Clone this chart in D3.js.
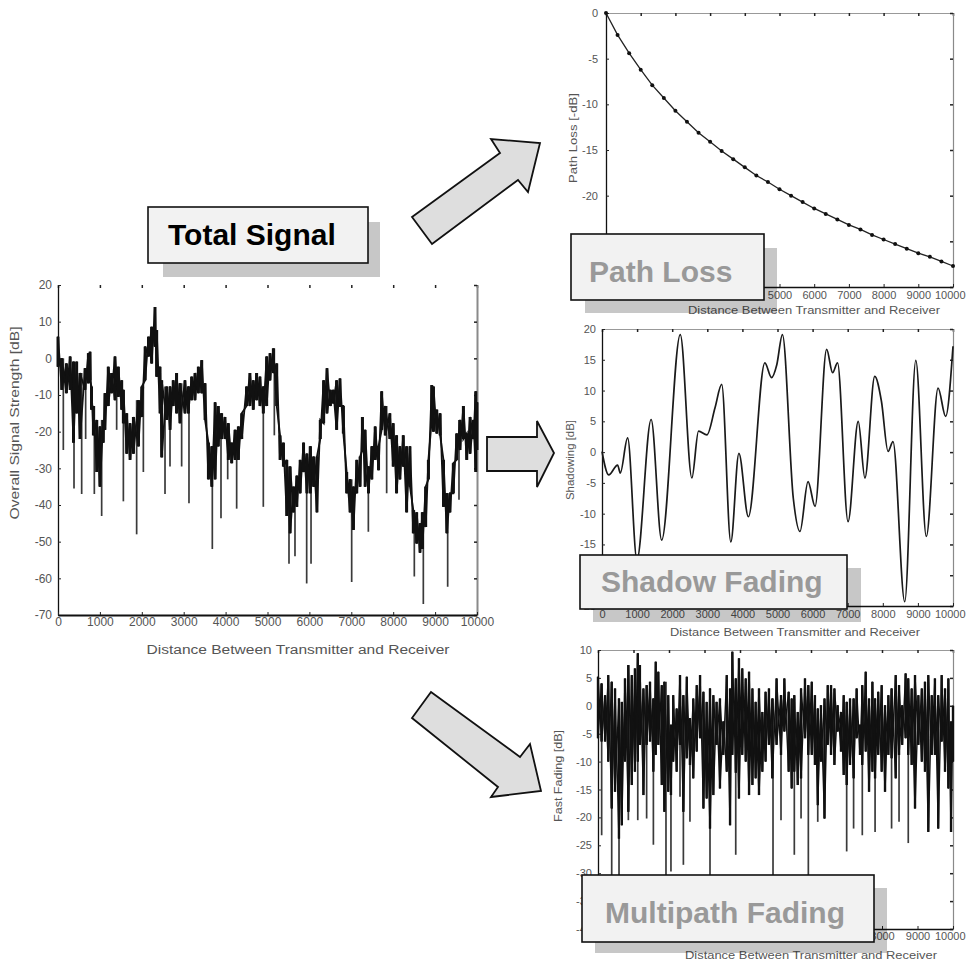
<!DOCTYPE html>
<html><head><meta charset="utf-8">
<script src="https://cdn.jsdelivr.net/npm/d3@7"></script>
<style>
body{margin:0;background:#fff;}
svg{display:block;}
text{font-family:"Liberation Sans",Arial,Helvetica,sans-serif;}
</style>
</head><body>
<svg id="c" width="966" height="964"></svg>
<script>
// ---------------- DATA ----------------
const distTicks = [0,1000,2000,3000,4000,5000,6000,7000,8000,9000,10000];

// Total signal (upper / lower edge of the dense trace, read per distance)
const tsDist = [0,90,200,290,370,445,525,645,725,765,
  800,845,925,1000,1080,1120,1200,1280,1360,1440,
  1520,1560,1640,1720,1800,1920,2000,2080,2160,2235,
  2315,2355,2435,2475,2595,2675,2750,2830,2910,3030,
  3110,3190,3270,3350,3430,3510,3590,3670,3750,3825,
  3905,3985,4065,4145,4225,4305,4385,4500,4580,4660,
  4740,4820,4900,4980,5060,5140,5220,5300,5380,5460,
  5540,5620,5700,5780,5860,5940,6020,6100,6180,6260,
  6340,6420,6500,6570,6650,6730,6810,6890,6970,7050,
  7130,7210,7265,7330,7410,7490,7570,7650,7725,7810,
  7920,8000,8080,8160,8240,8320,8400,8480,8560,8640,
  8695,8775,8840,8920,8960,9040,9120,9200,9280,9355,
  9435,9515,9595,9675,9755,9835,9915,9970,10000];
const tsHigh = [5.9,0,-1.4,0.5,-0.9,-0.9,-4,-2.7,1.4,1.8,
  -7.7,-13,-16.8,-18.6,-16.8,-9.5,-2.3,-4,0.5,-2.3,
  -6,-8.6,-15,-17.7,-16,-11.4,-7.7,3.2,5.9,8.6,
  14,7.7,-2.3,-6,-7.7,-7.7,-6,-4,-6.8,-6,
  -7.7,-5,-4,-2.3,-0.5,-6.8,-23,-24,-12,-13,
  -15,-16,-17.7,-23,-19.5,-18.6,-15,-7.7,-4,-6,
  -4,-5,-7.7,0.5,1.4,2.7,-1.4,-21,-23,-27.7,
  -29.5,-35,-32,-27.7,-23,-26,-24,-26.8,-26.8,-16.8,
  -6,-2.7,-8.6,-8.6,-6,-5.5,-13,-31,-33,-35,
  -27.7,-26.8,-16,-19.5,-29.5,-24,-18.6,-24,-9,-13,
  -15,-17.7,-21,-24,-21,-24,-24,-41.4,-42,-45,
  -42,-35,-27.7,-7.3,-7.7,-14,-15,-27.7,-36.8,-36.8,
  -28.6,-20.5,-16.8,-13,-20.5,-16,-16.8,-9,-12];
const tsLow = [-2.3,-8.6,-9.5,-8.6,-23,-15,-22,-8.6,-6.8,-6,
  -14,-21,-31,-35,-23,-19.5,-13,-9.5,-11.4,-10.5,
  -14,-17.7,-26,-27.7,-26,-24,-16,-6,0.5,-1.4,
  3.2,-5,-15,-27,-16.8,-19.5,-13,-15,-17.7,-15,
  -15,-11.4,-11.4,-9.5,-9.5,-16.8,-33,-35,-33,-24,
  -22,-22,-27.7,-28.6,-27.7,-27.7,-22,-13,-13,-14,
  -11.4,-13,-15,-13,-6,-4,-13,-27.7,-29.5,-43,
  -47.7,-42,-40.5,-36.8,-31,-36.8,-36.8,-35,-42,-22,
  -17.7,-15,-13,-12.3,-19.5,-13,-20.5,-36.8,-42,-46.8,
  -36.8,-35,-25,-35,-36.8,-33,-27.7,-30.5,-19.5,-21,
  -22,-29.5,-36.8,-33,-29.5,-42,-35,-47.7,-50.5,-53,
  -52,-46,-33,-16.8,-20,-20.5,-21,-40.5,-47.7,-42,
  -36.8,-27.7,-25,-22,-27.7,-26,-22,-31,-25];
const tsSpikeDist = [127,382,565,660,867,1042,1400,1560,1877,2037,2554,2673,2951,3126,3683,3890,4050,4264,4900,5163,5513,5656,5935,6039,7009,7407,7844,8504,8719,9300,9570];
const tsSpikeVal = [-25,-35.5,-37,-22,-37,-43,-19.5,-39,-48,-31,-37,-29.5,-29.5,-39.5,-52,-43.6,-33,-41,-40.5,-21,-56,-54,-61.4,-56,-61,-47.3,-36.8,-59.5,-67,-62.3,-38.6];
const tsYTicks = [20,10,0,-10,-20,-30,-40,-50,-60,-70];

// Path loss
const plDist = [0,333,667,1000,1333,1667,2000,2333,2667,3000,3333,3667,4000,4333,4667,5000,5333,5667,6000,6333,6667,7000,7333,7667,8000,8333,8667,9000,9333,9667,10000];
const plVal = [0,-2.4,-4.4,-6.2,-7.9,-9.3,-10.7,-11.9,-13.1,-14.1,-15.1,-16.0,-16.9,-17.8,-18.5,-19.3,-20.0,-20.7,-21.4,-22.0,-22.6,-23.2,-23.7,-24.3,-24.8,-25.3,-25.8,-26.3,-26.7,-27.2,-27.7];
const plYTicks = [0,-5,-10,-15,-20,-25,-30];
const plYLabelled = [0,-5,-10,-15,-20];

// Shadow fading
const sfDist = [0,190,445,520,730,995,1400,1700,2230,2560,2750,2990,3220,3410,3670,3900,4170,4640,4830,4980,5140,5450,5640,5870,6070,6400,6570,6710,7010,7300,7490,7770,7960,8150,8290,8625,8940,9240,9575,9790,10000];
const sfVal = [0.1,-3.7,-2.1,-3.4,2.3,-17.5,5.3,-14.3,19.1,-4.2,3.4,2.8,7.2,11.0,-14.6,-0.2,-10.5,14.5,12.1,14.2,19.1,-7.5,-12.9,-4.8,-8.8,16.7,12.9,14.5,-11.3,5.0,-4.2,12.3,8.3,0.1,1.7,-24.3,14.9,-13.7,10.4,5.8,17.2];
const sfYTicks = [20,15,10,5,0,-5,-10,-15,-20,-25];

// Multipath (fast) fading
const mpDist = [0,100,200,290,385,480,590,670,760,855,
  950,1040,1120,1180,1280,1370,1465,1560,1625,1700,
  1795,1870,1980,2055,2120,2215,2310,2405,2500,2590,
  2685,2780,2875,2970,3060,3155,3250,3340,3435,3530,
  3625,3720,3785,3880,3970,4065,4160,4255,4350,4440,
  4535,4630,4720,4815,4910,5030,5155,5250,5370,5455,
  5530,5625,5720,5830,5925,6020,6110,6190,6280,6380,
  6470,6565,6660,6750,6845,6920,7005,7100,7200,7285,
  7380,7445,7540,7635,7730,7805,7895,7990,8085,8180,
  8270,8385,8480,8570,8665,8740,8835,8930,9025,9120,
  9210,9305,9400,9490,9585,9680,9775,9870,9945,10000];
const mpHigh = [5.2,4.0,1.9,5.5,4.3,3.1,1.3,0.7,4.9,7.3,
  5.5,6.7,9.4,7.3,3.1,3.7,4.3,1.3,7.9,6.1,
  3.7,4.3,1.9,-3.4,1.9,-0.5,5.5,1.9,5.2,-2.2,
  1.3,3.7,5.5,2.5,0.7,3.1,1.9,0.7,1.3,-2.8,
  5.5,3.1,9.7,4.9,8.5,6.7,4.9,6.1,3.1,0.7,
  3.1,-1.1,2.5,3.1,1.3,4.9,1.9,4.9,2.5,1.3,
  1.9,-1.1,3.1,4.9,3.7,4.3,1.9,-0.5,0.1,1.3,
  3.7,3.7,3.1,0.1,-1.1,1.9,0.7,1.3,1.3,3.1,
  -3.4,3.7,6.1,1.3,4.3,1.3,2.5,3.7,0.1,1.9,
  3.1,5.5,3.7,0.1,5.8,4.9,3.1,5.5,1.9,3.1,
  4.3,5.5,1.9,4.9,1.9,5.5,3.1,4.9,-2.8,0];
const mpLow = [-5.8,-6.4,-6.4,-10.0,-18.4,-15.4,-23.8,-21.4,-10.0,-19.0,
  -14.2,-11.8,-10.0,-7.0,-16.0,-7.0,-6.4,-11.8,-8.8,-7.0,
  -14.2,-19.0,-15.4,-16.0,-10.0,-11.8,-7.0,-19.0,-9.4,-10.6,
  -13.0,-8.2,-5.8,-18.4,-16.6,-22.0,-16.0,-7.0,-14.8,-8.8,
  -11.8,-21.4,-8.8,-12.0,-16.6,-8.8,-10.0,-16.0,-14.2,-13.0,
  -16.0,-11.8,-10.0,-7.0,-13.0,-7.0,-8.8,-4.6,-11.8,-14.8,
  -11.8,-14.2,-13.0,-5.8,-8.8,-8.8,-10.6,-17.8,-10.0,-20.2,
  -7.0,-8.8,-10.6,-4.6,-8.2,-12.4,-14.2,-10.6,-13.0,-5.8,
  -8.8,-10.6,-8.2,-15.4,-11.8,-13.0,-8.8,-11.8,-15.4,-8.8,
  -9.4,-13.0,-8.8,-7.0,-5.8,-8.8,-10.6,-18.4,-7.0,-10.0,
  -11.8,-22.6,-8.8,-8.8,-22.0,-6.4,-11.8,-14.8,-22.6,-10.0];
const mpSpikeDist = [103,386,592,855,1120,1370,1560,1915,2055,2310,2405,2590,3155,3880,4930,5155,5530,5720,5925,6190,7005,7200,7445,7805,8270,8480,8740];
const mpSpikeVal = [-23.2,-36,-36,-20.5,-20.5,-20.2,-24.9,-36,-29.7,-16.3,-28.5,-20.8,-36,-26.7,-36,-20.5,-26.7,-20.2,-36,-20.8,-26.1,-22.0,-23.2,-22.6,-22.0,-20.8,-24.6];
const mpYTicks = [10,5,0,-5,-10,-15,-20,-25,-30,-35,-40];

const xTitle = "Distance Between Transmitter and Receiver";

// ---------------- LAYOUT ----------------
const svg = d3.select("#c");
const labelColor = "#555";

function panel(o) {
  const xs = d3.scaleLinear().domain([0, 10000]).range([o.left, o.right]);
  const ys = d3.scaleLinear().domain([o.yTicks[o.yTicks.length - 1], o.yTicks[0]]).range([o.bottom, o.top]);
  const g = svg.append("g");
  const yFmt = d => (!o.yLabelled || o.yLabelled.includes(d)) ? String(d) : "";
  const xFmt = d => String(d);
  const top = g.append("g").attr("transform", `translate(0,${o.top})`)
    .call(d3.axisTop(xs).tickValues(distTicks).tickSize(-3).tickSizeOuter(0).tickFormat(""));
  top.select(".domain").attr("stroke", o.topLine ? "#999" : "none").attr("stroke-width", 1.2);
  top.selectAll(".tick line").attr("stroke", "#222").attr("stroke-width", 1.5);
  const right = g.append("g").attr("transform", `translate(${o.right},0)`)
    .call(d3.axisRight(ys).tickValues(o.yTicks).tickSize(-3).tickSizeOuter(0).tickFormat(""));
  right.select(".domain").attr("stroke", "#8a8a8a").attr("stroke-width", o.rightW || 1.2);
  right.selectAll(".tick line").attr("stroke", "#222").attr("stroke-width", 1.5);
  const left = g.append("g").attr("transform", `translate(${o.left},0)`)
    .call(d3.axisLeft(ys).tickValues(o.yTicks).tickSize(-3).tickSizeOuter(0).tickPadding(o.yPad).tickFormat(yFmt));
  left.select(".domain").attr("stroke", "#111").attr("stroke-width", 1.3);
  left.selectAll(".tick line").attr("stroke", "#222");
  left.selectAll("text").attr("fill", labelColor).attr("font-size", o.fs).attr("font-family", '"Liberation Sans",Arial,sans-serif');
  const bottom = g.append("g").attr("transform", `translate(0,${o.bottom})`)
    .call(d3.axisBottom(xs).tickValues(distTicks).tickSize(-3).tickSizeOuter(0).tickPadding(o.xPad).tickFormat(xFmt));
  bottom.select(".domain").attr("stroke", "#111").attr("stroke-width", o.bottomW || 1.6);
  bottom.selectAll(".tick line").attr("stroke", "#222");
  bottom.selectAll("text").attr("fill", labelColor).attr("font-size", o.fs).attr("font-family", '"Liberation Sans",Arial,sans-serif');
  if (o.lastEnd) {
    bottom.selectAll(".tick").filter(d => d === 10000).select("text")
      .attr("text-anchor", "end").attr("x", o.lastEnd);
  }
  g.append("text").attr("x", o.xtX).attr("y", o.xtY).attr("text-anchor", "middle")
    .attr("font-size", o.tfs).attr("fill", labelColor)
    .attr("textLength", o.xtLen).attr("lengthAdjust", "spacingAndGlyphs").text(xTitle);
  g.append("text").attr("transform", `translate(${o.ytX},${o.ytY}) rotate(-90)`)
    .attr("text-anchor", "middle").attr("dy", "0.35em")
    .attr("font-size", o.tfs).attr("fill", labelColor)
    .attr("textLength", o.ytLen).attr("lengthAdjust", "spacingAndGlyphs").text(o.yTitle);
  return {g, xs, ys};
}

function band(p, dist, hi, lo, spD, spV, w, zw) {
  const {g, xs, ys} = p;
  const idx = d3.range(dist.length);
  const bis = d3.bisector(d => d).center;
  g.append("g").selectAll("line").data(spD).join("line")
    .attr("x1", d => xs(d)).attr("x2", d => xs(d))
    .attr("y1", d => ys(hi[bis(dist, d)]))
    .attr("y2", (d, j) => ys(spV[j]))
    .attr("stroke", "#3a3a3a").attr("stroke-width", 1.7);
  g.append("g").selectAll("line").data(idx).join("line")
    .attr("x1", i => xs(dist[i])).attr("x2", i => xs(dist[i]))
    .attr("y1", i => ys(hi[i])).attr("y2", i => ys(lo[i]))
    .attr("stroke", "#111").attr("stroke-width", w);
  const line = d3.line().x(q => xs(q[0])).y(q => ys(q[1]));
  const z1 = idx.flatMap(i => [[dist[i], hi[i]], [dist[i], lo[i]]]);
  const z2 = idx.flatMap(i => [[dist[i], lo[i]], [dist[i], hi[i]]]);
  [z1, z2].forEach(z => g.append("path").attr("d", line(z))
    .attr("fill", "none").attr("stroke", "#111").attr("stroke-width", zw));
}

// Total signal panel
const pTS = panel({left: 58, right: 477, top: 285, bottom: 615, yTicks: tsYTicks,
  fs: 12, tfs: 12, yPad: 6, xPad: 2, topLine: false, rightW: 2, bottomW: 2.2,
  xtX: 298, xtY: 654, xtLen: 303, ytX: 15, ytY: 423, ytLen: 193,
  yTitle: "Overall Signal Strength [dB]"});
band(pTS, tsDist, tsHigh, tsLow, tsSpikeDist, tsSpikeVal, 3.0, 1.8);

// Path loss panel
const pPL = panel({left: 606, right: 953, top: 13, bottom: 287, yTicks: plYTicks, yLabelled: plYLabelled,
  fs: 11, tfs: 11, yPad: 8, xPad: 4, topLine: true, lastEnd: 12,
  xtX: 814, xtY: 314, xtLen: 252, ytX: 573, ytY: 138, ytLen: 90,
  yTitle: "Path Loss [-dB]"});
pPL.g.append("path")
  .attr("d", d3.line().x(d => pPL.xs(d)).y((d, i) => pPL.ys(plVal[i]))(plDist))
  .attr("fill", "none").attr("stroke", "#222").attr("stroke-width", 1.3);
pPL.g.append("g").selectAll("circle").data(plDist).join("circle")
  .attr("cx", d => pPL.xs(d)).attr("cy", (d, i) => pPL.ys(plVal[i])).attr("r", 2).attr("fill", "#111");

// Shadow fading panel
const pSF = panel({left: 602, right: 953, top: 329, bottom: 606, yTicks: sfYTicks,
  fs: 11, tfs: 11, yPad: 6, xPad: 4, topLine: true, lastEnd: 12,
  xtX: 795, xtY: 636, xtLen: 250, ytX: 570, ytY: 460, ytLen: 80,
  yTitle: "Shadowing [dB]"});
pSF.g.append("path")
  .attr("d", d3.line().curve(d3.curveMonotoneX).x(d => pSF.xs(d)).y((d, i) => pSF.ys(sfVal[i]))(sfDist))
  .attr("fill", "none").attr("stroke", "#1a1a1a").attr("stroke-width", 1.7);

// Multipath panel
const pMP = panel({left: 598, right: 953, top: 650, bottom: 929, yTicks: mpYTicks,
  fs: 11, tfs: 11, yPad: 6, xPad: 3, topLine: true, lastEnd: 12,
  xtX: 811, xtY: 959, xtLen: 252, ytX: 558, ytY: 776, ytLen: 92,
  yTitle: "Fast Fading [dB]"});
band(pMP, mpDist, mpHigh, mpLow, mpSpikeDist, mpSpikeVal, 2.4, 1.4);

// Arrows (annotation shapes)
const arrows = [
  [[412,217],[500,153],[491,139],[540,143],[528,192],[518,180],[432,244]],
  [[487,437],[537,437],[537,421],[554,453],[537,487],[537,471],[487,471]],
  [[431,692],[520,757],[530,744],[541,791],[491,797],[498,787],[412,718]]
];
svg.append("g").selectAll("polygon").data(arrows).join("polygon")
  .attr("points", d => d.map(q => q.join(",")).join(" "))
  .attr("fill", "#dedede").attr("stroke", "#111").attr("stroke-width", 1.8).attr("stroke-linejoin", "miter");

// Label boxes
const boxes = [
  {t: "Total Signal", x: 148, y: 207, w: 220, h: 56, sx: 163, sy: 222, sw: 217, sh: 55, tx: 168, ty: 245, c: "#000"},
  {t: "Path Loss", x: 571, y: 234, w: 193, h: 66, sx: 585, sy: 248, sw: 192, sh: 65, tx: 589, ty: 282, c: "#999"},
  {t: "Shadow Fading", x: 580, y: 555, w: 267, h: 54, sx: 593, sy: 568, sw: 268, sh: 54, tx: 601, ty: 592, c: "#999"},
  {t: "Multipath Fading", x: 582, y: 875, w: 292, h: 67, sx: 595, sy: 888, sw: 292, sh: 65, tx: 605, ty: 923, c: "#999"}
];
const bg = svg.append("g");
boxes.forEach(b => {
  bg.append("rect").attr("x", b.sx).attr("y", b.sy).attr("width", b.sw).attr("height", b.sh)
    .attr("fill", "#000").attr("fill-opacity", 0.22);
  bg.append("rect").attr("x", b.x).attr("y", b.y).attr("width", b.w).attr("height", b.h)
    .attr("fill", "#f2f2f2").attr("stroke", "#111").attr("stroke-width", 1.6);
  bg.append("text").attr("x", b.tx).attr("y", b.ty).attr("font-size", 30).attr("font-weight", "bold")
    .attr("fill", b.c).text(b.t);
});
</script>
</body></html>
